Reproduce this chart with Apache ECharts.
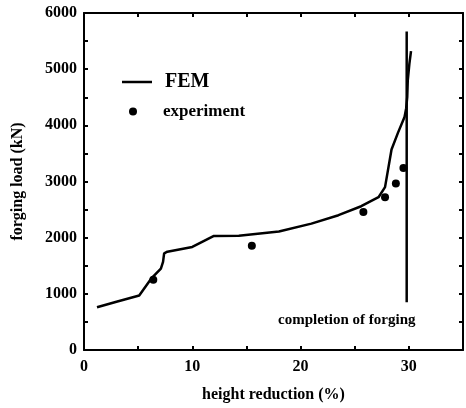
<!DOCTYPE html>
<html>
<head>
<meta charset="utf-8">
<script src="https://cdn.jsdelivr.net/npm/echarts@6/dist/echarts.min.js"></script>
<style>
  html, body { margin: 0; padding: 0; background: #fff; }
  #main { width: 466px; height: 408px; }
</style>
</head>
<body>
<div id="main"></div>
<script>
// FEM simulation curve (height reduction %, load kN)
var femX = [1.2, 3.0, 5.1, 6.2, 7.1, 7.3, 7.4, 7.7, 10.0, 12.0, 14.3, 18.0, 21.0, 23.5, 25.6, 27.2, 27.8, 28.4, 29.0, 29.6, 29.75, 29.85, 29.9, 30.05, 30.2];
var femY = [760, 860, 970, 1270, 1450, 1570, 1720, 1750, 1835, 2030, 2035, 2110, 2250, 2400, 2560, 2720, 2900, 3570, 3870, 4150, 4300, 4500, 4800, 5100, 5320];

// experiment points
var expX = [6.4, 15.5, 25.8, 27.8, 28.8, 29.5];
var expY = [1250, 1855, 2455, 2720, 2965, 3240];

// completion of forging line
var doneX = [29.8, 29.8];
var doneY = [850, 5670];

var serif = '"Liberation Serif", "DejaVu Serif", serif';

function pairs(xs, ys) {
  var out = [];
  for (var i = 0; i < xs.length; i++) {
    out.push([xs[i], ys[i]]);
  }
  return out;
}

var chart = echarts.init(document.getElementById('main'));

var axisLine = { show: true, onZero: false, lineStyle: { color: '#000', width: 2 } };
var axisTick = { show: true, inside: true, length: 4, lineStyle: { color: '#000', width: 2 } };
var labelFont = { fontFamily: serif, fontWeight: 'bold', fontSize: 16, color: '#000' };

chart.setOption({
  animation: false,
  backgroundColor: '#fff',
  grid: { left: 84, right: 2, top: 13, bottom: 56 },
  legend: [
    {
      data: [{ name: 'FEM', icon: 'rect' }],
      left: 117, top: 67,
      itemWidth: 30, itemHeight: 2.5,
      textStyle: { fontFamily: serif, fontWeight: 'bold', fontSize: 20, color: '#000', padding: [0, 0, 0, 8] }
    },
    {
      data: [{ name: 'experiment', icon: 'circle' }],
      left: 124, top: 98,
      itemWidth: 8, itemHeight: 8,
      textStyle: { fontFamily: serif, fontWeight: 'bold', fontSize: 17, color: '#000', padding: [0, 0, 0, 21] }
    }
  ],
  xAxis: [
    {
      type: 'value', min: 0, max: 35, interval: 5,
      name: 'height reduction (%)', nameLocation: 'middle', nameGap: 37,
      nameTextStyle: labelFont,
      axisLine: axisLine, axisTick: axisTick, splitLine: { show: false },
      axisLabel: {
        margin: 9, fontFamily: serif, fontWeight: 'bold', fontSize: 16, color: '#000',
        formatter: function (v) { return v % 10 === 0 ? String(v) : ''; }
      }
    },
    {
      type: 'value', position: 'top', min: 0, max: 35, interval: 5,
      axisLine: axisLine, axisTick: axisTick, axisLabel: { show: false }, splitLine: { show: false }
    }
  ],
  yAxis: [
    {
      type: 'value', min: 0, max: 6000, interval: 500,
      name: 'forging load (kN)', nameLocation: 'middle', nameGap: 58,
      nameTextStyle: labelFont,
      axisLine: axisLine, axisTick: axisTick, splitLine: { show: false },
      axisLabel: {
        margin: 7, fontFamily: serif, fontWeight: 'bold', fontSize: 16, color: '#000',
        formatter: function (v) { return v % 1000 === 0 ? String(v) : ''; }
      }
    },
    {
      type: 'value', position: 'right', min: 0, max: 6000, interval: 500,
      axisLine: axisLine, axisTick: axisTick, axisLabel: { show: false }, splitLine: { show: false }
    }
  ],
  graphic: [
    {
      type: 'text', left: 278, top: 313,
      style: { text: 'completion of forging', fontFamily: serif, fontWeight: 'bold', fontSize: 15, fill: '#000' }
    }
  ],
  series: [
    {
      name: 'FEM', type: 'line', data: pairs(femX, femY),
      symbol: 'none', lineStyle: { color: '#000', width: 2.5 }, itemStyle: { color: '#000' }
    },
    {
      name: 'experiment', type: 'scatter', data: pairs(expX, expY),
      symbol: 'circle', symbolSize: 8, itemStyle: { color: '#000', opacity: 1 }
    },
    {
      name: 'completion', type: 'line', data: pairs(doneX, doneY),
      symbol: 'none', lineStyle: { color: '#000', width: 2.5 }
    }
  ]
});
</script>
</body>
</html>
